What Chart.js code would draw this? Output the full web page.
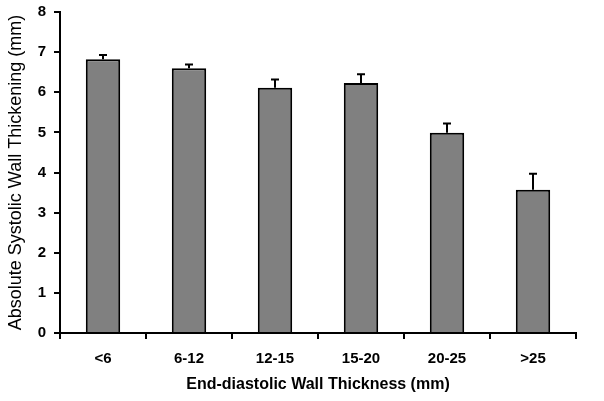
<!DOCTYPE html>
<html>
<head>
<meta charset="utf-8">
<script src="https://cdn.jsdelivr.net/npm/chart.js@4/dist/chart.umd.min.js"></script>
<style>
  html, body { margin: 0; padding: 0; background: #fff; }
  #wrap { width: 604px; height: 401px; }
</style>
</head>
<body>
<div id="wrap"><canvas id="wallChart"></canvas></div>
<script>
  // data
  const categories = ['<6', '6-12', '12-15', '15-20', '20-25', '>25'];
  const thickening = [6.82, 6.60, 6.11, 6.23, 4.99, 3.57];
  const errorUp = [0.11, 0.09, 0.21, 0.22, 0.23, 0.40];
  const yTicks = [0, 1, 2, 3, 4, 5, 6, 7, 8];

  const FONT = "'Liberation Sans', Arial, sans-serif";

  // upper error bars, drawn through the y scale
  const errorBars = {
    id: 'errorBars',
    afterDatasetsDraw(chart) {
      const ctx = chart.ctx;
      const yScale = chart.scales.y;
      const meta = chart.getDatasetMeta(0);
      ctx.save();
      ctx.strokeStyle = '#000';
      ctx.lineWidth = 2;
      meta.data.forEach(function (bar, i) {
        const top = yScale.getPixelForValue(thickening[i] + errorUp[i]);
        ctx.beginPath();
        ctx.moveTo(bar.x, bar.y);
        ctx.lineTo(bar.x, top);
        ctx.moveTo(bar.x - 4, top);
        ctx.lineTo(bar.x + 4, top);
        ctx.stroke();
      });
      ctx.restore();
    }
  };

  const ctx = document.getElementById('wallChart').getContext('2d');
  const wallChart = new Chart(ctx, {
    type: 'bar',
    data: {
      labels: categories,
      datasets: [{
        data: thickening,
        backgroundColor: '#808080',
        borderColor: '#000',
        borderWidth: 2,
        barPercentage: 0.4,
        categoryPercentage: 1
      }]
    },
    options: {
      responsive: true,
      maintainAspectRatio: false,
      animation: false,
      layout: { padding: { top: 12, right: 28, left: 0, bottom: 0 } },
      plugins: { legend: { display: false }, tooltip: { enabled: false } },
      scales: {
        x: {
          afterFit: function (scale) { scale.height = 68; scale.paddingLeft = 0; scale.paddingRight = 0; },
          border: { color: '#000', width: 2 },
          grid: { display: true, offset: true, drawOnChartArea: false, color: '#000', lineWidth: 2, tickLength: 6 },
          ticks: { color: '#000', font: { family: FONT, size: 15, weight: 'bold' }, padding: 11 },
          title: { display: true, text: 'End-diastolic Wall Thickness (mm)', color: '#000',
                   font: { family: FONT, size: 16, weight: 'bold' }, padding: { top: 4, bottom: 7 } }
        },
        y: {
          min: 0,
          max: 8,
          afterFit: function (scale) { scale.width = 60; scale.paddingTop = 0; scale.paddingBottom = 0; },
          afterBuildTicks: function (scale) { scale.ticks = yTicks.map(v => ({ value: v })); },
          border: { color: '#000', width: 2 },
          grid: { display: true, drawOnChartArea: false, color: '#000', lineWidth: 2, tickLength: 6 },
          ticks: { color: '#000', font: { family: FONT, size: 15, weight: 'bold' }, padding: 8 },
          title: { display: true, text: 'Absolute Systolic Wall Thickening (mm)', color: '#000',
                   font: { family: FONT, size: 18 }, padding: { top: 5, bottom: 4 } }
        }
      }
    },
    plugins: [errorBars]
  });
</script>
</body>
</html>
